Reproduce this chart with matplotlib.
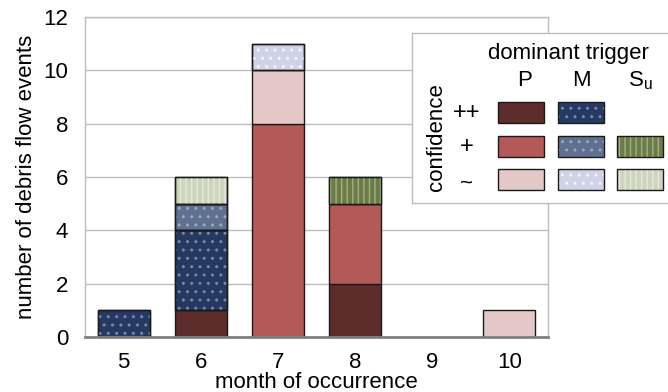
import numpy as np
import matplotlib
matplotlib.use("Agg")
import matplotlib.pyplot as plt
from matplotlib.patches import Rectangle

plt.rcParams['font.family'] = ['Liberation Sans', 'DejaVu Sans']
plt.rcParams['hatch.linewidth'] = 1.0

months = [5, 6, 7, 8, 9, 10]

# stacked segments, bottom to top
P_pp = [0, 1, 0, 2, 0, 0]
P_p = [0, 0, 8, 3, 0, 0]
P_t = [0, 0, 2, 0, 0, 1]
M_pp = [1, 3, 0, 0, 0, 0]
M_p = [0, 1, 0, 0, 0, 0]
M_t = [0, 0, 1, 0, 0, 0]
Su_p = [0, 0, 0, 1, 0, 0]
Su_t = [0, 1, 0, 0, 0, 0]

# (values, face colour, hatch, hatch colour)
segments = [
    (P_pp, '#5c2d2b', None, None),
    (M_pp, '#243a63', '..', '#7d88a3'),
    (P_p, '#b35a58', None, None),
    (M_p, '#5f7091', '..', '#9ea7bd'),
    (Su_p, '#6b7d45', '|||', '#a3ae8a'),
    (P_t, '#e4c8c8', None, None),
    (M_t, '#d0d3e5', '..', '#f4f5fa'),
    (Su_t, '#cdd6bc', '|||', '#e4e9dc'),
]

W, H = 668, 392
fs = 16
fig = plt.figure(figsize=(W / 100, H / 100), dpi=100)
ax = fig.add_axes([85 / W, (H - 337) / H, (548 - 85) / W, (337 - 17) / H])

bottom = np.zeros(len(months))
bw = 0.675
for vals, fc, hatch, hc in segments:
    vals = np.array(vals, dtype=float)
    m = vals > 0
    x = np.array(months)[m]
    ax.bar(x, vals[m], bw, bottom=bottom[m], color=fc, edgecolor='#1a1a1a',
           linewidth=1.0, zorder=3)
    if hatch:
        ax.bar(x, vals[m], bw, bottom=bottom[m], fill=False, hatch=hatch,
               edgecolor=hc, linewidth=0, zorder=3.5)
        ax.bar(x, vals[m], bw, bottom=bottom[m], fill=False,
               edgecolor='#1a1a1a', linewidth=1.0, zorder=3.6)
    bottom += vals

ax.set_xlim(4.5, 10.5)
ax.set_ylim(0, 12)
ax.set_xticks(months)
ax.set_yticks(range(0, 13, 2))
ax.tick_params(axis='both', length=0, labelsize=fs, colors='black')
ax.tick_params(axis='y', pad=12)
ax.tick_params(axis='x', pad=11)
ax.yaxis.grid(True, color='#bdbdbd', linewidth=1.0, zorder=0)
for s in ['top', 'right', 'left']:
    ax.spines[s].set_color('#bdbdbd')
    ax.spines[s].set_linewidth(1.0)
ax.spines['bottom'].set_color('#808080')
ax.spines['bottom'].set_linewidth(2.0)
ax.spines['bottom'].set_zorder(5)
ax.set_ylabel('number of debris flow events', fontsize=fs, labelpad=5)
ax.set_xlabel('month of occurrence', fontsize=fs, labelpad=-1)

# custom legend, drawn in pixel coordinates (runs off the right edge)
L, R, T, B = 412, 672, 33, 203
lg = fig.add_axes([L / W, (H - B) / H, (R - L) / W, (B - T) / H])
lg.set_xlim(L, R)
lg.set_ylim(B, T)
lg.set_xticks([])
lg.set_yticks([])
lg.set_facecolor('white')
for s in lg.spines.values():
    s.set_color('#bdbdbd')
    s.set_linewidth(1.0)

lg.text(568, 53, 'dominant trigger', ha='center', va='center', fontsize=fs)
lg.text(525, 81, 'P', ha='center', va='center', fontsize=fs)
lg.text(581, 81, 'M', ha='center', va='center', fontsize=fs)
lg.text(640, 81, r'S$_\mathregular{u}$', ha='center', va='center', fontsize=fs)
lg.text(437, 137, 'confidence', ha='center', va='center', rotation=90, fontsize=fs)
lg.text(467, 113, '++', ha='center', va='center', fontsize=fs + 1)
lg.text(467, 147, '+', ha='center', va='center', fontsize=fs + 1)
lg.text(467, 183, '~', ha='center', va='center', fontsize=fs)

cols = {'P': 498, 'M': 558, 'Su': 617}
rows = {'pp': 102, 'p': 136, 't': 169}
legend_items = [
    ('P', 'pp', 0), ('M', 'pp', 1), ('P', 'p', 2), ('M', 'p', 3),
    ('Su', 'p', 4), ('P', 't', 5), ('M', 't', 6), ('Su', 't', 7),
]
for c, r, i in legend_items:
    _, fc, hatch, hc = segments[i]
    x0, y0 = cols[c], rows[r]
    lg.add_patch(Rectangle((x0, y0), 46, 21, facecolor=fc, edgecolor='none'))
    if hatch:
        lg.add_patch(Rectangle((x0, y0), 46, 21, fill=False, hatch=hatch,
                               edgecolor=hc, linewidth=0))
    lg.add_patch(Rectangle((x0, y0), 46, 21, fill=False, edgecolor='#1a1a1a',
                           linewidth=1.0, clip_on=False))

fig.savefig('out.png', dpi=100)
